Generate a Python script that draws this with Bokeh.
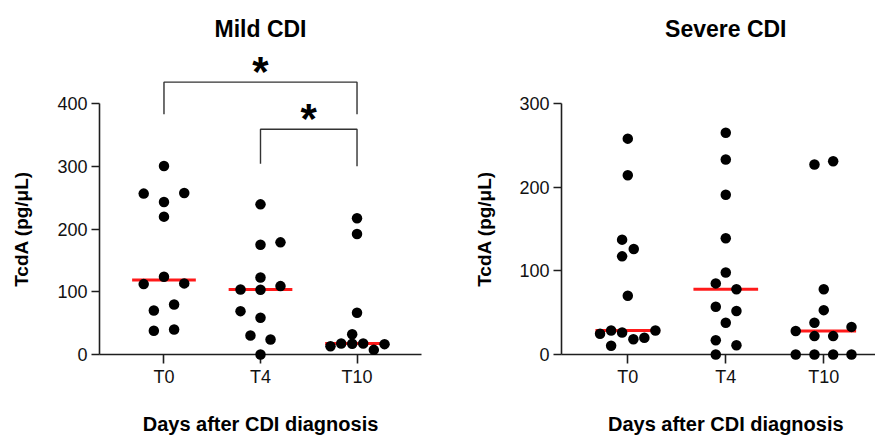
from bokeh.plotting import figure
from bokeh.layouts import row
from bokeh.models import FixedTicker, Range1d
from bokeh.core.properties import value
from bokeh.embed import file_html
from bokeh.resources import INLINE
import numpy as np

# ---------------- data ----------------
categories = ["T0", "T4", "T10"]

# Mild CDI, TcdA (pg/uL)
mild_t0 = [300.4, 256.4, 257.4, 243.0, 219.7, 124.0, 112.2, 113.3, 70.2, 79.8, 37.8, 39.9]
mild_t4 = [239.3, 175.0, 178.7, 122.8, 103.7, 103.2, 109.0, 69.1, 58.5, 30.3, 23.9, 0.0]
mild_t10 = [217.0, 192.0, 66.5, 32.4, 13.2, 17.5, 17.0, 17.5, 7.4, 16.5]

# Severe CDI, TcdA (pg/uL)
severe_t0 = [258.0, 214.2, 137.3, 126.0, 117.3, 70.2, 24.7, 28.7, 26.3, 28.7, 18.3, 20.0, 10.4]
severe_t4 = [265.0, 233.0, 191.0, 139.0, 98.0, 85.0, 78.0, 57.0, 52.0, 38.0, 17.0, 11.0, 0.0]
severe_t10 = [227.0, 231.0, 78.0, 53.0, 38.0, 28.0, 22.0, 22.0, 33.0, 0.0, 0.0, 0.0, 0.0]

# horizontal scatter offsets of the points (category units)
mild_t0_dx = [0, -0.21, 0.21, 0, 0, 0, -0.21, 0.21, -0.105, 0.105, -0.105, 0.105]
mild_t4_dx = [0, 0, 0.207, 0, -0.207, 0, 0.207, -0.207, 0, -0.104, 0.104, 0]
mild_t10_dx = [0, 0, 0, -0.05, -0.275, -0.164, -0.05, 0.064, 0.174, 0.285]
severe_t0_dx = [0, 0, -0.058, 0.061, -0.058, 0, -0.283, -0.17, -0.058, 0.282, 0.057, 0.169, -0.17]
severe_t4_dx = [0, 0, 0, 0, 0, -0.102, 0.109, -0.102, 0.109, 0, -0.102, 0.109, -0.102]
severe_t10_dx = [-0.095, 0.096, 0, 0, -0.095, -0.286, -0.095, 0.096, 0.283, -0.286, -0.095, 0.096, 0.283]

# significance brackets: (from category, to category, top, left leg end, right leg end, label)
mild_brackets = [(0, 2, 434, 383, 383, "*"), (1, 2, 359, 304, 300, "*")]
severe_brackets = []

titles = ["Mild CDI", "Severe CDI"]
y_title = "TcdA (pg/\u03bcL)"
x_title = "Days after CDI diagnosis"

# ---------------- style ----------------
FONT = "Liberation Sans"
INK = "#1e1e1e"
RED = "#ff1a1a"
H = 436
B_TOP, B_BOT = 103, 82
TITLE_GAP = 74.5     # px from frame top up to title anchor
XTITLE_GAP = 69      # px from frame bottom down to x-title anchor


def make_panel(title, groups, offsets, ymax, ystep, width, bl, br, xr, brackets, ylab_standoff):
    frame_h = H - B_TOP - B_BOT
    ppu = frame_h / ymax
    p = figure(width=width, height=H, output_backend="svg", toolbar_location=None,
               x_range=Range1d(*xr), y_range=Range1d(0, ymax),
               min_border_left=bl, min_border_right=br,
               min_border_top=B_TOP, min_border_bottom=B_BOT,
               outline_line_color=None, background_fill_color="white",
               border_fill_color="white")
    p.xgrid.visible = False
    p.ygrid.visible = False

    # x axis
    xa = p.xaxis[0]
    xa.ticker = FixedTicker(ticks=list(range(len(categories))))
    xa.major_label_overrides = {i: c for i, c in enumerate(categories)}
    xa.minor_tick_line_color = None
    xa.major_tick_in = 0
    xa.major_tick_out = 9
    xa.major_label_standoff = 3
    # y axis
    ya = p.yaxis[0]
    ya.ticker = FixedTicker(ticks=list(np.arange(0, ymax + 1, ystep)))
    ya.minor_tick_line_color = None
    ya.major_tick_in = 0
    ya.major_tick_out = 8
    ya.major_label_standoff = 4
    ya.axis_label = y_title
    ya.axis_label_standoff = ylab_standoff
    ya.axis_label_text_font = FONT
    ya.axis_label_text_font_size = "19px"
    ya.axis_label_text_font_style = "bold"
    ya.axis_label_text_color = "black"
    for ax in (xa, ya):
        ax.axis_line_color = INK
        ax.axis_line_width = 1.6
        ax.major_tick_line_color = INK
        ax.major_tick_line_width = 1.6
        ax.major_label_text_font = FONT
        ax.major_label_text_font_size = "18px"
        ax.major_label_text_color = "#111111"

    # median lines
    for i, vals in enumerate(groups):
        med = float(np.median(vals))
        p.segment(x0=[i - 0.33], x1=[i + 0.33], y0=[med], y1=[med],
                  line_color=RED, line_width=3)

    # points
    xs, ys = [], []
    for i, (vals, dx) in enumerate(zip(groups, offsets)):
        xs += [i + d for d in dx]
        ys += list(vals)
    p.scatter(x=xs, y=ys, size=10.5, fill_color="black", line_color=None, level="overlay")

    # significance brackets
    if brackets:
        bxs, bys, sx, sy, st = [], [], [], [], []
        for a, b, top, la, lb, lab in brackets:
            bxs.append([a, a, b, b])
            bys.append([la, top, top, lb])
            sx.append((a + b) / 2)
            sy.append(top)
            st.append(lab)
        p.multi_line(xs=bxs, ys=bys, line_color="#333333", line_width=1.4, level="overlay")
        p.text(x=sx, y=sy, text=st, text_align="center", text_baseline="alphabetic",
               text_font=value(FONT), text_font_style="bold", text_font_size=value("42px"),
               text_color="black", y_offset=-11, level="overlay")

    # chart title (above) and x-axis title (below), centred on the middle category
    mid = (len(categories) - 1) / 2
    p.text(x=[mid], y=[ymax + TITLE_GAP / ppu], text=[title], text_align="center",
           text_baseline="alphabetic", text_font=value(FONT), text_font_size=value("23px"),
           text_font_style="bold", text_color="black", level="overlay")
    p.text(x=[mid], y=[-XTITLE_GAP / ppu], text=[x_title], text_align="center",
           text_baseline="alphabetic", text_font=value(FONT), text_font_size=value("20px"),
           text_font_style="bold", text_color="black", level="overlay")
    return p


p1 = make_panel(titles[0], [mild_t0, mild_t4, mild_t10],
                [mild_t0_dx, mild_t4_dx, mild_t10_dx],
                400, 100, 440, 99, 19, (-0.668, 2.668), mild_brackets, 22)
p2 = make_panel(titles[1], [severe_t0, severe_t4, severe_t10],
                [severe_t0_dx, severe_t4_dx, severe_t10_dx],
                300, 100, 435, 121, 0, (-0.6765, 2.528), severe_brackets, 21)

layout = row(p1, p2)
open("out.html", "w").write(file_html(layout, INLINE))
